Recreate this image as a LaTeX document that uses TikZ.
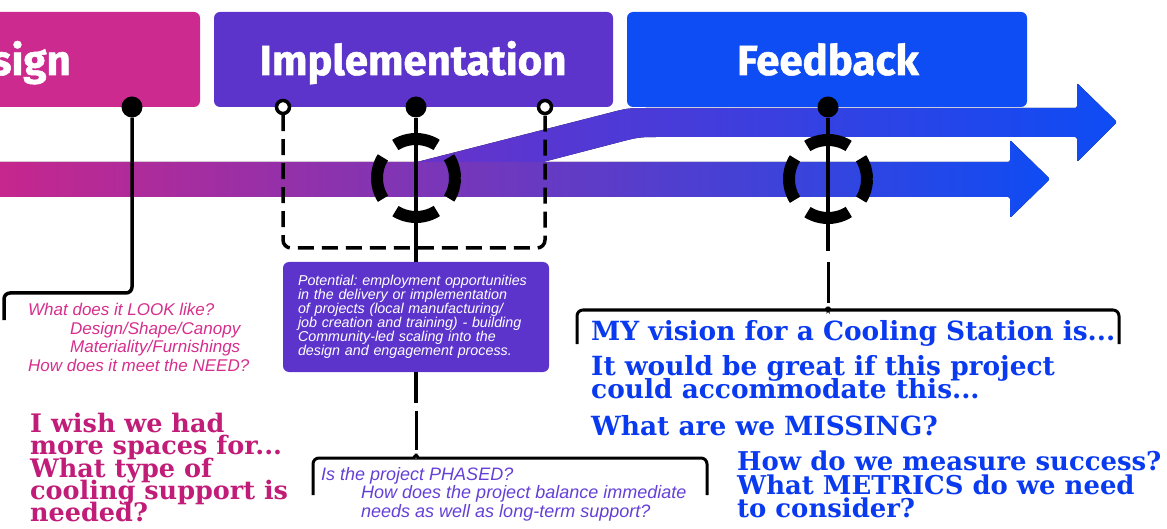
\documentclass[tikz,border=0pt]{standalone}
\usepackage{fontspec}
\usetikzlibrary{positioning}
\setmainfont{Liberation Sans}
\newfontfamily\headfont{Fira Sans}[BoldFeatures={FakeBold=1.2}]
\newfontfamily\notefont{Liberation Sans}
\newfontfamily\fatfont{DejaVu Serif}
\newcommand\tightlines{\lineskiplimit=-30pt\relax}

\definecolor{designpink}{RGB}{204,42,142}
\definecolor{implpurple}{RGB}{92,52,204}
\definecolor{feedblue}{RGB}{14,76,244}
\definecolor{bandpink}{RGB}{200,38,140}
\definecolor{bandviolet}{RGB}{104,50,202}
\definecolor{bandblue}{RGB}{14,76,244}
\definecolor{notepink}{RGB}{214,46,140}
\definecolor{notepurple}{RGB}{100,64,214}
\definecolor{shoutpink}{RGB}{192,28,120}
\definecolor{shoutblue}{RGB}{10,58,240}

\tikzset{
  phasebox/.style={
    rectangle,
    rounded corners=6pt,
    minimum height=95pt,
    inner sep=0pt
    },
  phasetitle/.style={
    text=white,
    font=\headfont\bfseries\fontsize{42}{42}\selectfont,
    inner sep=0pt,
    anchor=base
    },
  pin dot/.style={circle, fill=black, minimum size=21pt, inner sep=0pt},
  open pin/.style={circle, draw=black, fill=white, line width=3.5pt, minimum size=13pt, inner sep=0pt},
  ring/.style={
    circle,
    draw=black,
    minimum size=78pt,
    inner sep=0pt,
    line width=12pt,
    dash pattern=on 43.6pt off 17.7pt,
    dash phase=21.8pt
    },
  stem/.style={line width=3.5pt},
  bracket/.style={line width=3pt, rounded corners=6pt},
  dashed frame/.style={line width=3.5pt, dash pattern=on 16pt off 8pt, rounded corners=8pt},
  infobox/.style={
    rectangle,
    rounded corners=6pt,
    fill=implpurple,
    minimum width=266pt,
    minimum height=110pt,
    text width=236pt,
    align=left,
    text=white,
    font=\notefont\itshape\fontsize{14.3}{13.9}\selectfont\frenchspacing
    },
  note/.style={
    font=\notefont\itshape\fontsize{17}{18.5}\selectfont,
    align=left,
    anchor=north west,
    inner sep=0pt
    },
  shout/.style={
    font=\fatfont\bfseries\fontsize{26.4}{23}\selectfont\tightlines,
    align=left,
    anchor=north west,
    inner sep=0pt
    },
}

\begin{document}
\begin{tikzpicture}[x=1pt, y=-1pt]
    \useasboundingbox (0,0) rectangle (1167,529);
    \clip (0,0) rectangle (1167,529);

    % Draw the two timeline arrows
    \fill[rounded corners=2pt, left color=bandpink, middle color=bandviolet, right color=bandblue]
        (-10,162) -- (1010,162) -- (1010,140) -- (1050,179) -- (1010,218) -- (1010,197) -- (-10,197) -- cycle;
    \fill[rounded corners=2pt, left color=bandviolet, right color=bandblue]
        (417,162) -- (605,114) .. controls (628,108) .. (652,108) -- (1077,108) -- (1077,83)
        -- (1117,122) -- (1077,162) -- (1077,137) -- (662,137) .. controls (639,137) .. (616,143)
        -- (543,162) -- cycle;

    % Draw the phase boxes
    \node[phasebox, fill=designpink, minimum width=220pt] (design) at (90,59.5) {};
    \node[phasebox, fill=implpurple, minimum width=399pt] (impl) at (413.5,59.5) {};
    \node[phasebox, fill=feedblue, minimum width=400pt] (feed) at (827,59.5) {};
    \node[phasetitle, anchor=base east] (designT) at (71,75) {Design};
    \node[phasetitle] (implT) at (413,75) {Implementation};
    \node[phasetitle] (feedT) at (828,75) {Feedback};

    % Design: pin and bracket
    \node[pin dot] (dDesign) at (132,107) {};
    \coordinate (dTurn) at (4,293);
    \coordinate (dLeft) at (4,320);
    \draw[stem, rounded corners=6pt] (dDesign) |- (dTurn) -- (dLeft);

    % Implementation: dashed frame, ring, pin
    \node[open pin] (oL) at (283,107) {};
    \node[open pin] (oR) at (545,107) {};
    \coordinate (dashCorner) at (283,248);
    \draw[dashed frame] (oL) -- (dashCorner) -| (oR);
    \node[ring] (ringI) at (416,178) {};
    \node[pin dot] (dImpl) at (416,107) {};
    \node[infobox] (potential) at (416,317)
        {Potential: employment opportunities\\in the delivery or implementation\\of projects (local manufacturing/\\job creation and training) - building\\Community-led scaling into the\\design and engagement process.};
    \draw[stem] (dImpl) -- (potential);

    % Implementation: bracket below the box
    \coordinate (iThickEnd) at (416,403);
    \coordinate (iThinStart) at (416,411);
    \coordinate (iCusp) at (416,450);
    \coordinate (iLeft) at (313,495);
    \coordinate (iRight) at (707,495);
    \draw[line width=4.5pt] (potential) -- (iThickEnd);
    \draw[bracket] (iThinStart) -- (iCusp);
    \draw[bracket] (iLeft) |- (408,458) .. controls (413,458) and (416,455) .. (iCusp)
        .. controls (416,455) and (419,458) .. (424,458) -| (iRight);

    % Feedback: ring, pin and bracket
    \node[ring] (ringF) at (828,179) {};
    \node[pin dot] (dFeed) at (828,107) {};
    \coordinate (fThickEnd) at (828,251);
    \coordinate (fThinStart) at (828,262);
    \coordinate (fCusp) at (828,303);
    \coordinate (fLeft) at (577,344);
    \coordinate (fRight) at (1119,344);
    \draw[stem] (dFeed) -- (fThickEnd);
    \draw[bracket] (fThinStart) -- (fCusp);
    \draw[bracket] (fLeft) |- (820,310) .. controls (825,310) and (828,307) .. (fCusp)
        .. controls (828,307) and (831,310) .. (836,310) -| (fRight);

    % Notes under each phase
    \node[note, text=notepink] (lookNote) at (28,303)
        {What does it LOOK like?\\\hspace*{42pt}Design/Shape/Canopy\\\hspace*{42pt}Materiality/Furnishings\\How does it meet the NEED?};
    \node[note, text=notepurple, font=\notefont\itshape\fontsize{18}{18.5}\selectfont] (phaseNote) at (321,467)
        {Is the project PHASED?\\\hspace*{40pt}How does the project balance immediate\\\hspace*{40pt}needs as well as long-term support?};
    \node[shout, text=shoutpink, font=\fatfont\bfseries\fontsize{25.5}{22.3}\selectfont\tightlines] (wishNote) at (30,413)
        {I wish we had\\more spaces for...\\What type of\\cooling support is\\needed?};
    \node[shout, text=shoutblue] (visionNote) at (591,320) {MY vision for a Cooling Station is...};
    \node[shout, text=shoutblue] (greatNote) at (591,355) {It would be great if this project\\could accommodate this...};
    \node[shout, text=shoutblue] (missNote) at (591,415) {What are we MISSING?};
    \node[shout, text=shoutblue, font=\fatfont\bfseries\fontsize{25.9}{23.5}\selectfont\tightlines] (metricNote) at (737,451)
        {How do we measure success?\\What METRICS do we need\\to consider?};
\end{tikzpicture}
\end{document}
